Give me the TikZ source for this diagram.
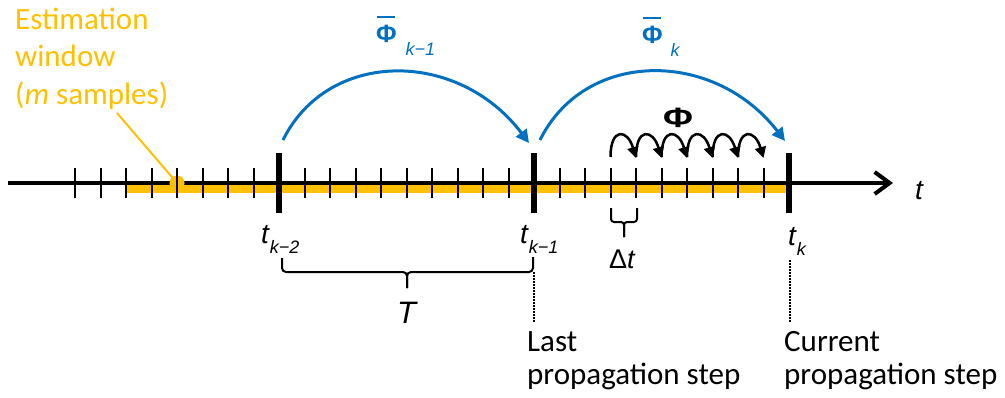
\documentclass[tikz,border=0pt]{standalone}
\usepackage{fontspec}
\usepackage{graphicx}
\setmainfont{Carlito}
\newfontfamily\arialf{Liberation Sans}
\usetikzlibrary{arrows.meta}
\definecolor{obar}{HTML}{FFC000}
\definecolor{oblue}{HTML}{0070C0}
\newcommand\phibar{\makebox[0pt][l]{\hspace{0.02em}\raisebox{0.96em}{\rule{0.72em}{0.08em}}}Φ}
\begin{document}
\begin{tikzpicture}[x=1pt,y=-1pt,
  lbl/.style={inner sep=0pt, anchor=base west},
  calib/.style={lbl, font=\fontsize{31}{37.5}\selectfont, align=left},
  calibb/.style={lbl, font=\fontsize{31}{32.5}\selectfont, align=left},
  axisline/.style={line width=4pt},
  smalltick/.style={line width=2pt},
  bigtick/.style={line width=6pt},
  band/.style={line width=11pt, draw=obar},
  bluearc/.style={draw=oblue, line width=3pt, -{Triangle[length=13pt,width=13pt]}},
  phiarc/.style={line width=2.5pt, -{Triangle[length=11pt,width=11pt]}},
  bracepath/.style={line width=2pt, rounded corners=4pt},
  dotline/.style={line width=1.5pt, dash pattern=on 1.5pt off 1.5pt},
  mathlbl/.style={lbl, font=\arialf\itshape\fontsize{28}{28}\selectfont},
]
\useasboundingbox (0,0) rectangle (1005,397);

% axis, band
\coordinate (ax0) at (8,183);
\coordinate (ax1) at (893,183);
\coordinate (b0) at (126,187.5);
\coordinate (b1) at (789,187.5);
\draw[band] (b0) -- (b1);
\draw[axisline, -{Straight Barb[length=15pt,width=22pt]}] (ax0) -- (ax1);

% estimation window label and dot (base anchor = last line)
\node[calib, text=obar] (est) at (15,104) {Estimation\\window\\(\textit{m} samples)};
\coordinate (estpt) at (117,113);
\node[circle, fill=obar, minimum size=15pt, inner sep=0pt] (dot) at (177,183) {};
\draw[obar, line width=2pt] (estpt) -- (dot.center);

% small ticks
\foreach \i in {-8,...,-1,1,2,...,9,11,12,...,19}
  \draw[smalltick] (279+25.5*\i,168) -- (279+25.5*\i,198);
% big ticks
\coordinate (T0) at (279,183);
\coordinate (T1) at (534,183);
\coordinate (T2) at (789,183);
\foreach \c in {T0,T1,T2}
  \draw[bigtick] ([yshift=-30pt]\c) -- ([yshift=30pt]\c);

% blue arcs
\coordinate (a1s) at (283,140);
\coordinate (a1e) at (529,143);
\coordinate (a2s) at (540,140);
\coordinate (a2e) at (785,141);
\draw[bluearc] (a1s) .. controls (328,49) and (458,49) .. (a1e);
\draw[bluearc] (a2s) .. controls (585,49) and (714,49) .. (a2e);

\node[lbl, text=oblue, font=\arialf\bfseries\fontsize{25}{25}\selectfont] (phi1) at (376,42)
  {\phibar\hspace{9pt}\raisebox{-13pt}{\mdseries\itshape\fontsize{18}{18}\selectfont k−1}};
\node[lbl, text=oblue, font=\arialf\bfseries\fontsize{25}{25}\selectfont] (phi2) at (642,43)
  {\phibar\hspace{8pt}\raisebox{-13pt}{\mdseries\itshape\fontsize{18}{18}\selectfont k}};

% small Phi arcs
\foreach \i in {13,...,18}
  \draw[phiarc] (279+25.5*\i,157) .. controls (279+25.5*\i,127) and (279+25.5*\i+17,129) .. (279+25.5*\i+25.5,158);
\node[lbl, font=\arialf\bfseries\fontsize{28}{28}\selectfont] (phi) at (663,127) {\scalebox{1.3}[1]{Φ}};

% time labels
\node[mathlbl] (tk2) at (261,243) {t\hspace{1pt}\raisebox{-10pt}{\fontsize{18}{18}\selectfont k−2}};
\node[mathlbl] (tk1) at (520,243) {t\hspace{1pt}\raisebox{-10pt}{\fontsize{18}{18}\selectfont k−1}};
\node[mathlbl] (tk) at (788,245) {t\hspace{1pt}\raisebox{-10pt}{\fontsize{18}{18}\selectfont k}};
\node[mathlbl] (tax) at (915,199) {t};

% T brace
\draw[bracepath] (282,258) |- (407,272) -- (407,288);
\draw[bracepath] (533,257) |- (407,272) -- (407,288);
\node[mathlbl, font=\arialf\itshape\fontsize{31}{31}\selectfont] (Tlab) at (397,323) {T};

% Delta t brace
\draw[bracepath, rounded corners=3pt] (611,208) |- (624,222) -- (624,237);
\draw[bracepath, rounded corners=3pt] (637,208) |- (624,222) -- (624,237);
\node[mathlbl, font=\arialf\fontsize{27}{27}\selectfont] (dt) at (609,268) {Δ\textit{t}};

% dotted leaders
\coordinate (d1a) at (534,272);
\coordinate (d1b) at (534,322);
\coordinate (d2a) at (790,260);
\coordinate (d2b) at (790,323);
\draw[dotline] (d1a) -- (d1b);
\draw[dotline] (d2a) -- (d2b);

\node[calibb] (last) at (527,384) {Last\\propagation step};
\node[calibb] (curr) at (784,384) {Current\\propagation step};
\end{tikzpicture}
\end{document}
